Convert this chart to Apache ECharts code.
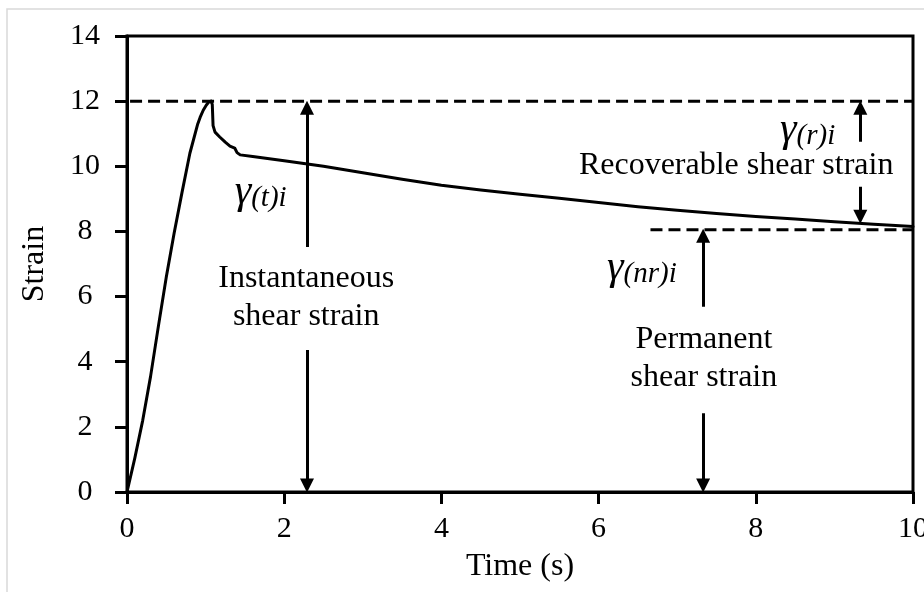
<!DOCTYPE html>
<html>
<head>
<meta charset="utf-8">
<script src="https://cdn.jsdelivr.net/npm/echarts@6/dist/echarts.min.js"></script>
<style>
html,body{margin:0;padding:0;background:#fff;}
#chart{width:924px;height:592px;}
</style>
</head>
<body>
<div id="chart"></div>
<script>
// ---- data ----
const timeS  = [0, 0.1, 0.2, 0.3, 0.4, 0.5, 0.6, 0.7, 0.8, 0.9, 0.93, 0.97, 1.01, 1.04, 1.07, 1.085, 1.095, 1.12, 1.18, 1.25, 1.31, 1.37, 1.40, 1.44, 1.6, 2.0, 2.5, 3.0, 3.5, 4.0, 4.5, 5.0, 5.5, 6.0, 6.5, 7.0, 7.5, 8.0, 8.5, 9.0, 9.5, 10.0];
const strain = [0, 1.05, 2.2, 3.55, 5.1, 6.6, 7.95, 9.2, 10.4, 11.3, 11.5, 11.72, 11.88, 11.97, 12.0, 11.9, 11.25, 11.05, 10.9, 10.74, 10.62, 10.56, 10.42, 10.35, 10.3, 10.17, 10.0, 9.8, 9.6, 9.42, 9.27, 9.14, 9.02, 8.89, 8.76, 8.65, 8.55, 8.46, 8.38, 8.3, 8.22, 8.15];

const xTicks = [0, 2, 4, 6, 8, 10];
const yTicks = [0, 2, 4, 6, 8, 10, 12, 14];

// dashed reference levels: [tStart, tEnd, level]
const refLevels = [[-0.19, 10, 12], [6.66, 10, 8.05]];

// arrows: [t, fromStrain, toStrain] (head at "to")
const arrows = [
  [2.29, 7.52, 11.8],
  [2.29, 4.36, 0.2],
  [9.33, 10.75, 11.8],
  [9.33, 9.37, 8.45],
  [7.33, 5.69, 7.87],
  [7.33, 2.42, 0.2]
];

// text annotations: [t, strain, text]
const notes = [
  [2.28, 5.96, 'Instantaneous\nshear strain'],
  [7.75, 10.02, 'Recoverable shear strain'],
  [7.34, 4.11, 'Permanent\nshear strain']
];
// symbol annotations: [t, strain, main, subscript]
const symbols = [
  [1.7, 9.18, 'γ', '(t)i'],
  [8.66, 11.08, 'γ', '(r)i'],
  [6.55, 6.85, 'γ', '(nr)i']
];

const FONT = '"Liberation Serif","Times New Roman",serif';

const chart = echarts.init(document.getElementById('chart'), null, {renderer: 'canvas'});

const series = [];
series.push({
  type: 'line',
  data: timeS.map((t, i) => [t, strain[i]]),
  showSymbol: false,
  symbol: 'none',
  smooth: false,
  lineStyle: {color: '#000', width: 3, join: 'round', cap: 'round'},
  z: 5,
  silent: true
});
refLevels.forEach(r => {
  series.push({
    type: 'line',
    data: [[r[0], r[2]], [r[1], r[2]]],
    symbol: 'none',
    clip: false,
    lineStyle: {color: '#000', width: 3, type: [12, 6]},
    z: 4,
    silent: true
  });
});
series.push({
  type: 'lines',
  coordinateSystem: 'cartesian2d',
  symbol: ['none', 'triangle'],
  symbolSize: [11, 14],
  lineStyle: {color: '#000', width: 3, opacity: 1},
  data: arrows.map(a => ({coords: [[a[0], a[1]], [a[0], a[2]]]})),
  z: 6,
  silent: true
});
series.push({
  type: 'scatter',
  symbolSize: 0,
  itemStyle: {opacity: 1},
  data: notes.map(n => [n[0], n[1], n[2]]),
  label: {
    show: true,
    position: 'inside',
    formatter: p => p.data[2],
    fontFamily: FONT,
    fontSize: 32,
    lineHeight: 38,
    color: '#000',
    opacity: 1,
    textBorderWidth: 0,
    align: 'center',
    verticalAlign: 'middle'
  },
  z: 7,
  silent: true
});
series.push({
  type: 'scatter',
  symbolSize: 0,
  itemStyle: {opacity: 1},
  data: symbols.map(s => [s[0], s[1], s[2], s[3]]),
  label: {
    show: true,
    position: 'inside',
    formatter: p => '{g|' + p.data[2] + '}{s|' + p.data[3] + '}',
    align: 'center',
    verticalAlign: 'middle',
    color: '#000',
    opacity: 1,
    textBorderWidth: 0,
    rich: {
      g: {fontFamily: FONT, fontStyle: 'italic', fontSize: 42, color: '#000', textBorderWidth: 0, verticalAlign: 'bottom', lineHeight: 40},
      s: {fontFamily: FONT, fontStyle: 'italic', fontSize: 29, color: '#000', textBorderWidth: 0, verticalAlign: 'bottom', lineHeight: 32}
    }
  },
  z: 7,
  silent: true
});

chart.setOption({
  animation: false,
  backgroundColor: '#fff',
  graphic: [{
    type: 'rect',
    shape: {x: 7, y: 9, width: 2000, height: 2000},
    style: {fill: 'none', stroke: '#d9d9d9', lineWidth: 1.5},
    silent: true,
    z: -10
  }],
  grid: {
    left: 127, right: 11, top: 36, bottom: 100,
    containLabel: false,
    outerBoundsMode: 'none',
    show: true, borderColor: '#000', borderWidth: 3, backgroundColor: 'transparent'
  },
  xAxis: {
    type: 'value',
    min: xTicks[0], max: xTicks[xTicks.length - 1], interval: 2,
    name: 'Time (s)',
    nameLocation: 'middle',
    nameGap: 59,
    nameTextStyle: {fontFamily: FONT, fontSize: 32, color: '#000'},
    axisLine: {show: true, lineStyle: {color: '#000', width: 3}},
    axisTick: {show: true, inside: false, length: 12, lineStyle: {color: '#000', width: 3}},
    axisLabel: {fontFamily: FONT, fontSize: 30, color: '#000', margin: 22, hideOverlap: false, showMaxLabel: true},
    splitLine: {show: false}
  },
  yAxis: {
    type: 'value',
    min: yTicks[0], max: yTicks[yTicks.length - 1], interval: 2,
    name: 'Strain',
    nameLocation: 'middle',
    nameGap: 76,
    nameTextStyle: {fontFamily: FONT, fontSize: 32, color: '#000'},
    axisLine: {show: true, lineStyle: {color: '#000', width: 3}},
    axisTick: {show: true, inside: false, length: 12, lineStyle: {color: '#000', width: 3}},
    axisLabel: {fontFamily: FONT, fontSize: 30, color: '#000', margin: 42, align: 'center'},
    splitLine: {show: false}
  },
  series: series
});
</script>
</body>
</html>
